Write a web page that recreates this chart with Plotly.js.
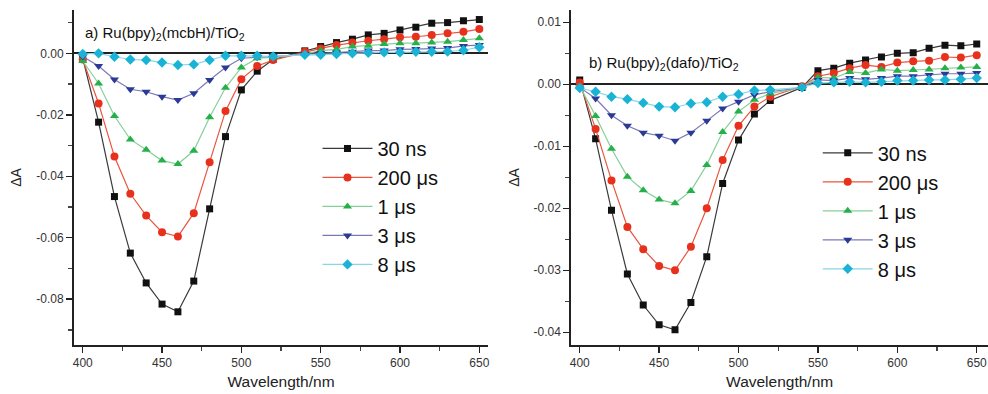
<!DOCTYPE html>
<html>
<head>
<meta charset="utf-8">
<script src="https://cdn.plot.ly/plotly-3.0.1.min.js"></script>
<style>
html,body{margin:0;padding:0;background:#fff;}
#chart{width:988px;height:394px;}
</style>
</head>
<body>
<div id="chart"></div>
<script>
// Wavelengths (nm); no point at 530 nm in the original
var wavelength = [400,410,420,430,440,450,460,470,480,490,500,510,520,540,550,560,570,580,590,600,610,620,630,640,650];

// Series names
var seriesNames = ['30 ns', '200 \u03bcs', '1 \u03bcs', '3 \u03bcs', '8 \u03bcs'];

// Panel a) Ru(bpy)2(mcbH)/TiO2
var a_30ns  = [-0.0016,-0.0224,-0.0466,-0.0650,-0.0747,-0.0816,-0.0841,-0.0741,-0.0506,-0.0271,-0.0119,-0.0058,-0.0020,0.0008,0.0022,0.0035,0.0046,0.0060,0.0065,0.0076,0.0085,0.0098,0.0100,0.0106,0.0110];
var a_200us = [-0.0020,-0.0163,-0.0336,-0.0457,-0.0528,-0.0582,-0.0596,-0.0520,-0.0354,-0.0188,-0.0084,-0.0041,-0.0022,0.0005,0.0016,0.0027,0.0035,0.0041,0.0046,0.0052,0.0054,0.0060,0.0065,0.0070,0.0079];
var a_1us   = [-0.0025,-0.0098,-0.0204,-0.0280,-0.0314,-0.0349,-0.0360,-0.0317,-0.0208,-0.0112,-0.0046,-0.0016,-0.0013,-0.0002,0.0009,0.0013,0.0022,0.0025,0.0030,0.0033,0.0033,0.0035,0.0038,0.0043,0.0049];
var a_3us   = [-0.0010,-0.0041,-0.0085,-0.0117,-0.0125,-0.0141,-0.0152,-0.0130,-0.0087,-0.0046,-0.0016,-0.0013,-0.0009,-0.0002,0.0000,0.0002,0.0005,0.0009,0.0009,0.0013,0.0014,0.0016,0.0017,0.0024,0.0027];
var a_8us   = [-0.0002,0.0000,-0.0011,-0.0020,-0.0022,-0.0030,-0.0038,-0.0036,-0.0022,-0.0008,-0.0008,-0.0008,-0.0010,-0.0005,-0.0005,-0.0002,0.0000,0.0002,0.0003,0.0003,0.0005,0.0005,0.0006,0.0010,0.0020];

// Panel b) Ru(bpy)2(dafo)/TiO2
var b_30ns  = [0.0007,-0.0088,-0.0203,-0.0306,-0.0356,-0.0388,-0.0396,-0.0352,-0.0278,-0.0160,-0.0090,-0.0048,-0.0026,-0.0005,0.0022,0.0026,0.0034,0.0039,0.0044,0.0050,0.0051,0.0058,0.0063,0.0062,0.0065];
var b_200us = [0.0003,-0.0072,-0.0155,-0.0230,-0.0266,-0.0293,-0.0300,-0.0262,-0.0200,-0.0122,-0.0067,-0.0036,-0.0020,-0.0003,0.0013,0.0018,0.0026,0.0031,0.0028,0.0035,0.0037,0.0038,0.0044,0.0043,0.0047];
var b_1us   = [-0.0003,-0.0051,-0.0104,-0.0149,-0.0171,-0.0186,-0.0192,-0.0172,-0.0130,-0.0077,-0.0044,-0.0025,-0.0015,-0.0005,0.0011,0.0010,0.0020,0.0018,0.0024,0.0022,0.0023,0.0024,0.0026,0.0027,0.0028];
var b_3us   = [-0.0005,-0.0023,-0.0050,-0.0067,-0.0078,-0.0083,-0.0091,-0.0078,-0.0059,-0.0039,-0.0028,-0.0017,-0.0012,-0.0005,0.0007,0.0006,0.0010,0.0008,0.0010,0.0013,0.0013,0.0015,0.0017,0.0017,0.0018];
var b_8us   = [-0.0006,-0.0012,-0.0020,-0.0024,-0.0030,-0.0036,-0.0037,-0.0031,-0.0029,-0.0020,-0.0016,-0.0010,-0.0009,-0.0005,0.0002,0.0003,0.0004,0.0003,0.0004,0.0006,0.0006,0.0007,0.0007,0.0008,0.0010];

// Tick labels
var xTickVals = [400,450,500,550,600,650];
var xMinorVals = [425,475,525,575,625];
var yTickValsA = [0,-0.02,-0.04,-0.06,-0.08];
var yTickTextA = ['0.00','-0.02','-0.04','-0.06','-0.08'];
var yMinorValsA = [0.01,-0.01,-0.03,-0.05,-0.07,-0.09];
var yTickValsB = [0.01,0,-0.01,-0.02,-0.03,-0.04];
var yTickTextB = ['0.01','0.00','-0.01','-0.02','-0.03','-0.04'];
var yMinorValsB = [0.005,-0.005,-0.015,-0.025,-0.035];

var seriesA = [a_30ns, a_200us, a_1us, a_3us, a_8us];
var seriesB = [b_30ns, b_200us, b_1us, b_3us, b_8us];

var styles = [
  {mc:'#111111', lc:'#3a3a3a', sym:'square', size:7},
  {mc:'#e8311d', lc:'#e9553f', sym:'circle', size:8},
  {mc:'#25b04a', lc:'#86d09a', sym:'triangle-up', size:8},
  {mc:'#2b3a94', lc:'#7b78b6', sym:'triangle-down', size:8},
  {mc:'#1ab3d6', lc:'#88d6ea', sym:'diamond', size:8}
];

var traces = [];
function addPanel(series, xa, ya, leg) {
  for (var i = 0; i < series.length; i++) {
    var s = styles[i];
    traces.push({
      type:'scatter', mode:'lines+markers',
      x: wavelength, y: series[i],
      xaxis: xa, yaxis: ya,
      name: seriesNames[i], legend: leg,
      line: {color: s.lc, width: 1.2},
      marker: {color: s.mc, symbol: s.sym, size: s.size, line: {width: 0}}
    });
  }
}
addPanel(seriesA, 'x', 'y', 'legend');
addPanel(seriesB, 'x2', 'y2', 'legend2');

var fam = 'Liberation Sans, Arial, sans-serif';
var tickFont = {family:fam, size:12, color:'#333'};
var titleFont = {family:fam, size:15.5, color:'#222'};
var legFont = {family:fam, size:20, color:'#111'};

function xAxis(domain, range, anchor) {
  return {
    domain: domain, range: range, anchor: anchor,
    showline: true, linecolor:'#222', linewidth:2,
    showgrid:false, zeroline:false,
    tickmode:'array', tickvals: xTickVals,
    ticks:'outside', ticklen:6, tickwidth:1.5, tickcolor:'#222',
    minor: {tickmode:'array', tickvals: xMinorVals, ticks:'outside', ticklen:4, tickwidth:1.2, tickcolor:'#444'},
    tickfont: tickFont,
    title: {text:'Wavelength/nm', font: titleFont, standoff: 7}
  };
}
function yAxis(range, anchor, tv, tt, mv) {
  return {
    domain:[0,1], range: range, anchor: anchor,
    showline: true, linecolor:'#222', linewidth:2,
    showgrid:false,
    zeroline:true, zerolinecolor:'#222', zerolinewidth:2,
    tickmode:'array', tickvals: tv, ticktext: tt,
    ticks:'outside', ticklen:6, tickwidth:1.5, tickcolor:'#222',
    minor: {tickmode:'array', tickvals: mv, ticks:'outside', ticklen:4, tickwidth:1.2, tickcolor:'#444'},
    tickfont: tickFont,
    title: {text:'\u0394A', font: {family:fam, size:14, color:'#222'}, standoff: 11}
  };
}

var layout = {
  width:988, height:394,
  margin:{l:74, r:0, t:10, b:49},
  paper_bgcolor:'#fff', plot_bgcolor:'rgba(0,0,0,0)',
  xaxis: xAxis([0, 0.4530], [394.5, 655.5], 'y'),
  yaxis: yAxis([-0.0949, 0.0141], 'x', yTickValsA, yTickTextA, yMinorValsA),
  xaxis2: xAxis([0.5441, 1], [394.7, 657.1], 'y2'),
  yaxis2: yAxis([-0.04205, 0.01198], 'x2', yTickValsB, yTickTextB, yMinorValsB),
  legend: {x:0.2664, y:0.645, xanchor:'left', yanchor:'top', bgcolor:'rgba(0,0,0,0)',
           font: legFont, itemwidth:50, tracegroupgap:0},
  legend2: {x:0.8137, y:0.632, xanchor:'left', yanchor:'top', bgcolor:'rgba(0,0,0,0)',
           font: legFont, itemwidth:50, tracegroupgap:0},
  annotations: [
    {xref:'x', yref:'y', x:400, y:0.0066, xanchor:'left', yanchor:'middle', showarrow:false,
     text:'a) Ru(bpy)<sub>2</sub>(mcbH)/TiO<sub>2</sub>',
     font:{family:fam, size:15, color:'#111'}},
    {xref:'x2', yref:'y2', x:404.6, y:0.0034, xanchor:'left', yanchor:'middle', showarrow:false,
     text:'b) Ru(bpy)<sub>2</sub>(dafo)/TiO<sub>2</sub>',
     font:{family:fam, size:15, color:'#111'}}
  ]
};

Plotly.newPlot('chart', traces, layout, {displayModeBar:false, staticPlot:true});
</script>
</body>
</html>
